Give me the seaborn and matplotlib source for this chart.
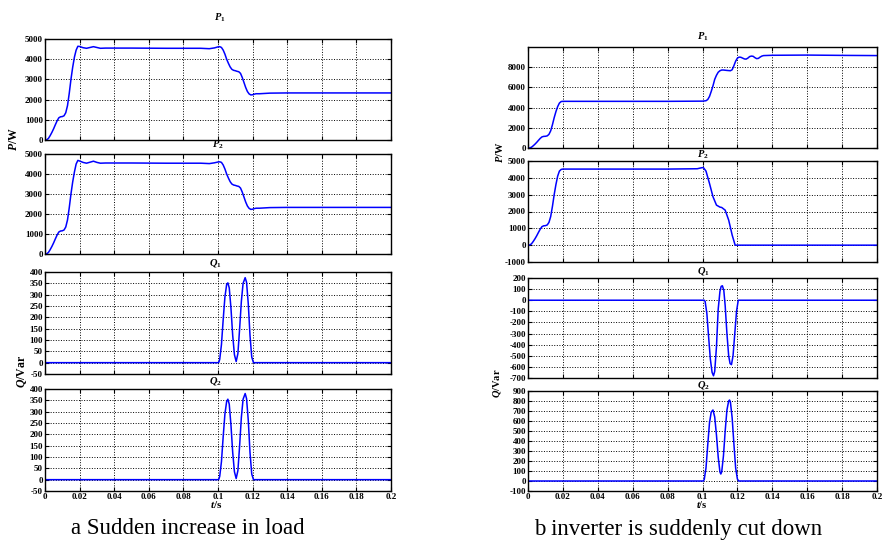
import numpy as np
import pandas as pd
import matplotlib
matplotlib.use("Agg")
import matplotlib.pyplot as plt
import seaborn as sns

# ========================
# DATA
# ========================
# (a) sudden increase in load
a_p_t = [0, 0.001, 0.002, 0.003, 0.004, 0.005, 0.006, 0.007, 0.008, 0.009, 0.010,
         0.011, 0.012, 0.013, 0.014, 0.015, 0.016, 0.017, 0.018, 0.019, 0.020,
         0.022, 0.024, 0.026, 0.028, 0.030, 0.032, 0.035, 0.05, 0.07, 0.09, 0.095,
         0.098, 0.100, 0.101, 0.102, 0.103, 0.104, 0.105, 0.106, 0.107, 0.108,
         0.109, 0.110, 0.111, 0.112, 0.113, 0.114, 0.115, 0.116, 0.117, 0.118,
         0.119, 0.120, 0.121, 0.122, 0.124, 0.126, 0.13, 0.14, 0.16, 0.18, 0.2]
a_p1 = [0, 10, 80, 220, 380, 560, 760, 950, 1100, 1150, 1160,
        1200, 1350, 1700, 2300, 3000, 3600, 4100, 4450, 4640, 4630,
        4570, 4540, 4580, 4620, 4580, 4540, 4550, 4550, 4540, 4540, 4520,
        4560, 4610, 4620, 4580, 4450, 4250, 4000, 3800, 3620, 3500,
        3450, 3430, 3400, 3380, 3300, 3100, 2850, 2600, 2400, 2280,
        2230, 2240, 2270, 2290, 2290, 2300, 2320, 2330, 2330, 2330, 2330]
a_p2 = [0, 10, 80, 220, 380, 560, 760, 950, 1100, 1150, 1160,
        1200, 1350, 1700, 2300, 3000, 3600, 4100, 4500, 4680, 4650,
        4580, 4540, 4590, 4640, 4580, 4540, 4550, 4550, 4540, 4540, 4520,
        4560, 4600, 4610, 4580, 4450, 4250, 4000, 3800, 3620, 3500,
        3450, 3430, 3400, 3380, 3300, 3100, 2850, 2600, 2400, 2280,
        2230, 2240, 2270, 2290, 2290, 2300, 2320, 2330, 2330, 2330, 2330]
a_q_t = [0, 0.100, 0.1005, 0.101, 0.102, 0.103, 0.104, 0.105, 0.1057, 0.1065, 0.1075,
         0.1085, 0.1095, 0.1105, 0.1115, 0.1125, 0.1135, 0.1145, 0.1157, 0.1165,
         0.1175, 0.1185, 0.1195, 0.1205, 0.2]
a_q1 = [0, 0, 2, 15, 80, 190, 290, 345, 352, 330, 240,
        120, 35, 5, 40, 150, 270, 350, 375, 355,
        260, 120, 25, 0, 0]
a_q2 = [0, 0, 2, 15, 80, 190, 290, 345, 355, 333, 240,
        120, 35, 5, 40, 150, 275, 355, 380, 358,
        262, 120, 25, 0, 0]

# (b) inverter is suddenly cut down
b_p1_t = [0, 0.001, 0.002, 0.003, 0.004, 0.005, 0.006, 0.007, 0.008, 0.009, 0.010,
          0.011, 0.012, 0.013, 0.014, 0.015, 0.016, 0.017, 0.018, 0.019, 0.020,
          0.05, 0.08, 0.100, 0.102, 0.103, 0.104, 0.105, 0.106, 0.107, 0.108,
          0.109, 0.110, 0.111, 0.112, 0.114, 0.116, 0.117, 0.118, 0.119, 0.120,
          0.121, 0.122, 0.123, 0.124, 0.125, 0.126, 0.127, 0.128, 0.129, 0.130,
          0.131, 0.132, 0.133, 0.134, 0.135, 0.14, 0.16, 0.18, 0.2]
b_p1 = [0, 10, 80, 220, 380, 560, 760, 950, 1100, 1150, 1160,
        1200, 1350, 1700, 2300, 3000, 3600, 4100, 4450, 4600, 4620,
        4620, 4620, 4640, 4680, 4800, 5100, 5600, 6150, 6800, 7200,
        7500, 7650, 7720, 7720, 7680, 7650, 7750, 8150, 8600, 8900,
        9000, 8980, 8900, 8820, 8800, 8900, 9050, 9100, 9080, 8950,
        8850, 8870, 9000, 9100, 9150, 9180, 9200, 9170, 9150]
b_p2_t = [0, 0.001, 0.002, 0.003, 0.004, 0.005, 0.006, 0.007, 0.008, 0.009, 0.010,
          0.011, 0.012, 0.013, 0.014, 0.015, 0.016, 0.017, 0.018, 0.019, 0.020,
          0.05, 0.08, 0.097, 0.0995, 0.1005, 0.102, 0.104, 0.106, 0.108, 0.110,
          0.111, 0.113, 0.115, 0.116, 0.117, 0.118, 0.1187, 0.13, 0.2]
b_p2 = [0, 10, 80, 220, 380, 560, 760, 950, 1100, 1150, 1160,
        1200, 1350, 1700, 2300, 3000, 3600, 4100, 4400, 4500, 4520,
        4520, 4520, 4540, 4600, 4610, 4400, 3670, 2880, 2380, 2260,
        2240, 2080, 1490, 1050, 600, 250, 0, 0, 0]
b_q1_t = [0, 0.101, 0.1015, 0.1025, 0.1035, 0.1045, 0.1055, 0.1063, 0.107, 0.108,
          0.109, 0.110, 0.1107, 0.1114, 0.1122, 0.113, 0.114, 0.115, 0.1158, 0.1166,
          0.1175, 0.1185, 0.1195, 0.1205, 0.2]
b_q1 = [0, 0, -10, -120, -330, -530, -650, -680, -640, -420,
        -80, 80, 125, 130, 90, -50, -300, -500, -570, -580,
        -500, -300, -100, 0, 0]
b_q2_t = [0, 0.1005, 0.101, 0.102, 0.103, 0.104, 0.105, 0.106, 0.107, 0.108,
          0.109, 0.110, 0.1105, 0.111, 0.112, 0.113, 0.114, 0.115, 0.1155, 0.116,
          0.117, 0.118, 0.119, 0.120, 0.1207, 0.2]
b_q2 = [0, 0, 15, 130, 360, 580, 690, 710, 640, 460,
        240, 90, 70, 90, 250, 500, 710, 800, 810, 790,
        630, 370, 130, 20, 0, 0]

x_ticks = [0, 0.02, 0.04, 0.06, 0.08, 0.1, 0.12, 0.14, 0.16, 0.18, 0.2]
x_labels = ["0", "0.02", "0.04", "0.06", "0.08", "0.1", "0.12", "0.14", "0.16", "0.18", "0.2"]

# ========================
# STYLE
# ========================
sns.set_theme(style="ticks")
plt.rcParams["font.family"] = ["Liberation Serif", "DejaVu Serif"]
plt.rcParams["font.weight"] = "bold"
plt.rcParams["text.color"] = "black"
plt.rcParams["mathtext.fontset"] = "custom"
plt.rcParams["mathtext.it"] = "Liberation Serif:italic:bold"
plt.rcParams["mathtext.rm"] = "Liberation Serif:bold"
plt.rcParams["mathtext.bf"] = "Liberation Serif:bold"
plt.rcParams["xtick.direction"] = "in"
plt.rcParams["ytick.direction"] = "in"
plt.rcParams["xtick.top"] = True
plt.rcParams["ytick.right"] = True

W, H = 882, 545
fig = plt.figure(figsize=(W / 100, H / 100), dpi=100)


def px_axes(x0, y0, x1, y1):
    return fig.add_axes([x0 / W, 1 - y1 / H, (x1 - x0) / W, (y1 - y0) / H])


def ftext(x, y, s, **kw):
    fig.text(x / W, 1 - y / H, s, ha="center", va="center", color="black", **kw)


def panel(box, t, v, ylim, yticks, title, title_pos, bottom=False):
    ax = px_axes(*box)
    df = pd.DataFrame({"t": t, "v": v})
    sns.lineplot(data=df, x="t", y="v", ax=ax, color="#0000ff", lw=1.1)
    ax.set_xlim(0, 0.2)
    ax.set_ylim(*ylim)
    ax.set_yticks(yticks)
    ax.set_yticklabels([str(y) for y in yticks])
    ax.set_xticks(x_ticks)
    if bottom:
        ax.set_xticklabels(x_labels)
    else:
        ax.set_xticklabels([])
    ax.set_xlabel("")
    ax.set_ylabel("")
    ax.grid(True, linestyle=":", color="black", lw=0.7)
    ax.tick_params(labelsize=6.5, length=3, width=0.8, pad=1.5, colors="black")
    for lab in ax.get_xticklabels() + ax.get_yticklabels():
        lab.set_fontweight("bold")
    for s in ax.spines.values():
        s.set_color("black")
        s.set_linewidth(1.0)
    ftext(*title_pos, title, fontsize=7.5)
    return ax


# left column
panel((45, 39, 391, 140), a_p_t, a_p1, (0, 5000), [0, 1000, 2000, 3000, 4000, 5000],
      r"$P_1$", (220, 18))
panel((45, 154, 391, 254), a_p_t, a_p2, (0, 5000), [0, 1000, 2000, 3000, 4000, 5000],
      r"$P_2$", (218, 145))
qt = [-50, 0, 50, 100, 150, 200, 250, 300, 350, 400]
panel((45, 272, 391, 374), a_q_t, a_q1, (-50, 400), qt, r"$Q_1$", (215, 263))
panel((45, 389, 391, 491), a_q_t, a_q2, (-50, 400), qt, r"$Q_2$", (215, 381), bottom=True)

# right column
panel((528, 47, 877, 148), b_p1_t, b_p1, (0, 10000), [0, 2000, 4000, 6000, 8000],
      r"$P_1$", (703, 37))
panel((528, 161, 877, 262), b_p2_t, b_p2, (-1000, 5000),
      [-1000, 0, 1000, 2000, 3000, 4000, 5000], r"$P_2$", (703, 155))
panel((528, 278, 877, 378), b_q1_t, b_q1, (-700, 200),
      [-700, -600, -500, -400, -300, -200, -100, 0, 100, 200], r"$Q_1$", (703, 271))
panel((528, 391, 877, 491), b_q2_t, b_q2, (-100, 900),
      [-100, 0, 100, 200, 300, 400, 500, 600, 700, 800, 900], r"$Q_2$", (703, 385),
      bottom=True)

# axis labels
ftext(14, 139, r"$P$/W", fontsize=8.5, rotation=90)
ftext(22, 371, r"$Q$/Var", fontsize=8.5, rotation=90)
ftext(499, 152, r"$P$/W", fontsize=7.5, rotation=90)
ftext(497, 383, r"$Q$/Var", fontsize=7.5, rotation=90)
ftext(216, 505, r"$t$/s", fontsize=8)
ftext(702, 505, r"$t$/s", fontsize=7.5)

# captions
ftext(188, 529, "a Sudden increase in load", fontsize=16.5, fontweight="normal")
ftext(678, 529, "b inverter is suddenly cut down", fontsize=16.5, fontweight="normal")

fig.savefig("out.png", dpi=100)
